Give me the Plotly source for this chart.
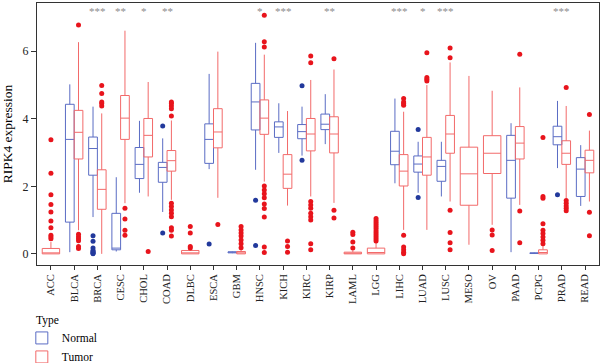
import plotly.graph_objects as go

categories = ["ACC", "BLCA", "BRCA", "CESC", "CHOL", "COAD", "DLBC", "ESCA", "GBM", "HNSC",
              "KICH", "KIRC", "KIRP", "LAML", "LGG", "LIHC", "LUAD", "LUSC", "MESO", "OV",
              "PAAD", "PCPG", "PRAD", "READ"]

paired_cats = ["BLCA", "BRCA", "CESC", "CHOL", "COAD", "ESCA", "GBM", "HNSC", "KICH", "KIRC",
               "KIRP", "LIHC", "LUAD", "LUSC", "PAAD", "PCPG", "PRAD", "READ"]

normal_lo = [0.05, 1.09, 0.07, 1.81, 1.24, 2.51, 0.02, 2.49, 2.99, 2.91, 3.25, 2.09, 1.81, 1.70, 0.05, 0.00, 2.54, 1.42]
normal_q1 = [0.94, 2.33, 0.12, 2.23, 2.12, 2.68, 0.03, 3.67, 3.45, 3.41, 3.68, 2.64, 2.42, 2.15, 1.65, 0.01, 3.23, 1.70]
normal_med = [3.39, 3.12, 0.17, 2.65, 2.56, 3.39, 0.05, 4.50, 3.76, 3.62, 3.84, 3.04, 2.66, 2.59, 2.77, 0.02, 3.47, 2.51]
normal_q3 = [4.43, 3.46, 1.20, 3.15, 2.71, 3.85, 0.06, 5.05, 3.91, 3.83, 4.14, 3.63, 2.90, 2.77, 3.51, 0.03, 3.78, 2.85]
normal_hi = [5.02, 4.36, 2.27, 3.94, 3.42, 5.33, 0.07, 6.25, 4.46, 4.36, 4.73, 4.60, 3.32, 3.32, 3.87, 0.04, 4.53, 3.22]
normal_out = [[], [0.54, 0.37, 0.17, 0.10, 0.07, 0.04, 0.02, 0.0], [], [], [3.79, 0.62], [0.29], [],
              [1.59, 0.25], [], [4.98, 2.77], [], [], [3.68, 1.67], [], [], [], [1.75], []]

tumor_lo = [0.70, 0.00, 1.50, 1.70, 1.60, 1.66, 0.00, 2.14, 1.43, 1.70, 1.51, 0.71, 0.71, 1.55, 1.45, 0.00, 1.65, 1.55]
tumor_q1 = [2.81, 1.32, 3.39, 2.87, 2.45, 3.14, 0.00, 3.54, 1.94, 3.05, 2.99, 2.01, 2.33, 2.98, 2.81, 0.00, 2.65, 2.40]
tumor_med = [3.60, 1.91, 4.02, 3.51, 2.76, 3.61, 0.03, 4.02, 2.36, 3.55, 3.55, 2.45, 2.87, 3.55, 3.28, 0.04, 2.98, 2.77]
tumor_q3 = [4.25, 2.49, 4.69, 4.01, 3.06, 4.30, 0.07, 4.56, 2.94, 4.01, 4.06, 2.94, 3.45, 4.10, 3.77, 0.12, 3.35, 3.07]
tumor_hi = [6.27, 4.16, 6.61, 5.09, 3.95, 5.99, 0.15, 5.90, 4.23, 5.15, 5.46, 4.21, 5.00, 5.67, 4.93, 0.25, 4.38, 3.65]
tumor_out = [[6.78, 0.58, 0.51, 0.45, 0.39, 0.22, 0.16],
             [4.99, 4.75, 4.50, 4.45, 4.38],
             [1.35, 1.03, 0.70, 0.55],
             [0.07],
             [4.50, 4.45, 4.38, 4.30, 4.08, 1.50, 1.40, 1.30, 1.20, 1.10, 0.77, 0.70, 0.53],
             [0.87],
             [0.81, 0.71, 0.62, 0.53, 0.41, 0.30, 0.18],
             [7.07, 6.28, 6.13, 2.01, 1.89, 1.78, 1.66, 1.48, 1.34, 1.09, 0.20, 0.04],
             [0.38, 0.22, 0.05],
             [5.86, 5.66, 1.55, 1.45, 1.35, 1.20, 1.10, 1.00, 0.30, 0.12],
             [5.78, 1.29, 1.06],
             [4.60, 4.50, 4.45, 4.40, 0.55, 0.20, 0.12, 0.05, 0.0],
             [5.96, 5.22, 5.17, 5.12],
             [6.10, 5.81, 1.29, 0.63, 0.33, 0.12],
             [5.91, 1.27, 0.33],
             [3.45, 1.70, 1.65, 0.89, 0.70, 0.60, 0.50, 0.40, 0.30],
             [4.93, 1.58, 1.50, 1.42, 1.35, 1.28],
             [4.13, 1.23, 0.54]]

single_cats = ["ACC", "DLBC", "LAML", "LGG", "MESO", "OV"]
single_lo = [0.00, 0.00, 0.00, 0.00, 0.27, 0.86]
single_q1 = [0.00, 0.00, 0.00, 0.00, 1.44, 2.38]
single_med = [0.02, 0.03, 0.01, 0.04, 2.37, 2.98]
single_q3 = [0.16, 0.10, 0.05, 0.17, 3.16, 3.50]
single_hi = [0.35, 0.15, 0.10, 0.35, 5.27, 4.83]
single_out = [[3.38, 2.39, 1.75, 1.46, 1.24, 0.97, 0.77, 0.55, 0.50, 0.45],
              [0.81, 0.62, 0.22, 0.17],
              [0.64, 0.57, 0.35, 0.17],
              [1.05, 0.98, 0.92, 0.86, 0.80, 0.74, 0.68, 0.62, 0.56, 0.50, 0.44, 0.38],
              [],
              [0.71, 0.56, 0.10]]

sig_cats = ["BRCA", "CESC", "CHOL", "COAD", "HNSC", "KICH", "KIRP", "LIHC", "LUAD", "LUSC", "PRAD"]
sig_labels = ["***", "**", "*", "**", "*", "***", "**", "***", "*", "***", "***"]

BLUE_LINE = "#5a6cc4"
BLUE_PT = "#22399c"
RED_LINE = "#f26a6a"
RED_PT = "#e8141c"
FONT = "Liberation Serif"


def sample_rows(outliers, medians):
    # boxes without outliers get their median as the only sample (inside the fences, so not drawn)
    return [list(o) if len(o) else [m] for o, m in zip(outliers, medians)]


fig = go.Figure()

common = dict(boxpoints="outliers", jitter=0, pointpos=0, whiskerwidth=0,
              fillcolor="rgba(255,255,255,0)")

fig.add_trace(go.Box(name="Normal", x=paired_cats, y=sample_rows(normal_out, normal_med),
                     q1=normal_q1, median=normal_med, q3=normal_q3,
                     lowerfence=normal_lo, upperfence=normal_hi,
                     line=dict(color=BLUE_LINE, width=1),
                     marker=dict(color=BLUE_PT, size=5),
                     alignmentgroup="paired", offsetgroup="N", legendgroup="N", **common))
fig.add_trace(go.Box(name="Tumor", x=paired_cats, y=sample_rows(tumor_out, tumor_med),
                     q1=tumor_q1, median=tumor_med, q3=tumor_q3,
                     lowerfence=tumor_lo, upperfence=tumor_hi,
                     line=dict(color=RED_LINE, width=1),
                     marker=dict(color=RED_PT, size=5),
                     alignmentgroup="paired", offsetgroup="T", legendgroup="T", **common))
fig.add_trace(go.Box(name="Tumor", x=single_cats, y=sample_rows(single_out, single_med),
                     q1=single_q1, median=single_med, q3=single_q3,
                     lowerfence=single_lo, upperfence=single_hi,
                     line=dict(color=RED_LINE, width=1),
                     marker=dict(color=RED_PT, size=5),
                     alignmentgroup="single", offsetgroup="S",
                     legendgroup="T", showlegend=False, **common))

for c, s in zip(sig_cats, sig_labels):
    fig.add_annotation(x=c, y=7.2, xref="x", yref="y", text=s, showarrow=False,
                       font=dict(family=FONT, size=11, color="#8c8c8c"))

# legend title drawn as text so that it lines up with the axis like the reference
fig.add_annotation(x=-0.005, y=-0.21, xref="paper", yref="paper", xanchor="left", yanchor="middle",
                   text="Type", showarrow=False, font=dict(family=FONT, size=11.5, color="black"))

xr = [-0.6, len(categories) - 0.4]
fig.update_layout(
    width=600, height=363,
    margin=dict(l=37, r=1, t=3, b=98, autoexpand=False),
    paper_bgcolor="white", plot_bgcolor="white",
    boxmode="group", boxgap=0.25, boxgroupgap=0,
    font=dict(family=FONT, size=12, color="black"),
    xaxis=dict(type="category", categoryorder="array", categoryarray=categories,
               range=xr, autorange=False, tickangle=-90, ticks="outside", ticklen=4, tickcolor="#333",
               showline=True, linecolor="#333", linewidth=1, mirror=True, automargin=False,
               showgrid=False, zeroline=False, tickfont=dict(size=10.5, color="#222")),
    yaxis=dict(range=[-0.33, 7.43], autorange=False, tickvals=[0, 2, 4, 6], ticks="outside", ticklen=5,
               tickcolor="#333", showline=True, linecolor="#333", linewidth=1, mirror=True,
               showgrid=False, zeroline=False, automargin=False,
               title=dict(text="RIPK4 expression", standoff=9, font=dict(size=13.5)),
               tickfont=dict(size=12, color="#222")),
    legend=dict(x=-0.027, xanchor="left", y=-0.223, yanchor="top", orientation="v",
                font=dict(size=11.5), bgcolor="rgba(0,0,0,0)", tracegroupgap=0, itemwidth=30),
    showlegend=True,
)

fig.write_html("out.html", config={"displayModeBar": False},
               post_script="document.body.style.margin='0px';")
